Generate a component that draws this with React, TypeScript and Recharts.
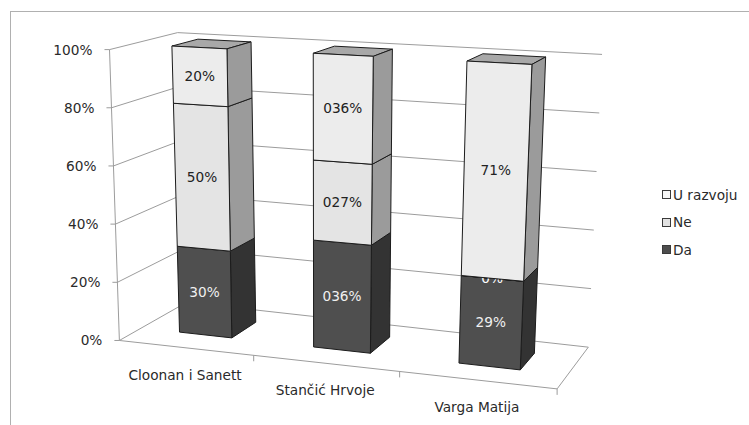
import React from 'react';
import { BarChart, Bar, XAxis, YAxis, CartesianGrid, Legend } from 'recharts';

const categories = ['Cloonan i Sanett', 'Stančić Hrvoje', 'Varga Matija'];
const daValues = [30, 36, 29];
const neValues = [50, 27, 0];
const uRazvojuValues = [20, 36, 71];
const daLabels = ['30%', '036%', '29%'];
const neLabels = ['50%', '027%', '0%'];
const uRazvojuLabels = ['20%', '036%', '71%'];
const yTicks = [0, 0.2, 0.4, 0.6, 0.8, 1];
const seriesNames = ['Da', 'Ne', 'U razvoju'];

const data = categories.map((name, i) => ({
  name,
  Da: daValues[i],
  Ne: neValues[i],
  'U razvoju': uRazvojuValues[i],
}));

const W = 749;
const H = 425;
const PLOT_LEFT = 118;
const PLOT_RIGHT = 568;
const PLOT_TOP = 40;
const PLOT_BOTTOM = 340;
const D_FRONT = -0.82;
const D_BACK = 1.67;
const FONT = '"DejaVu Sans", Verdana, sans-serif';
const FS = 13.7;
const GRID = '#9c9c9c';
const EDGE = '#1c1c1c';

const vOf = (y: number) => (PLOT_BOTTOM - y) / (PLOT_BOTTOM - PLOT_TOP);

// perspective projection of the flat library coordinates
const gx = (xl: number) => xl + 2.75e-4 * (xl - 343) * (xl - 343);
function P(xl: number, v: number, d: number): [number, number] {
  const xt = gx(xl);
  const top = 46 + 0.051 * (xt - 171);
  const bot = 332 + 0.105 * (xt - 171);
  const y = bot - v * (bot - top);
  const x = xt - 1.8e-4 * (xt - 320) * (y - top);
  const dx = 24 - 0.034 * (x - 230);
  const dy = -7 - 0.03 * (y - 50);
  return [x + d * dx, y + d * dy];
}
const poly = (pts: [number, number][]) => pts.map((p) => `${p[0].toFixed(2)},${p[1].toFixed(2)}`).join(' ');
const ln = (a: [number, number], b: [number, number], key: string, color = GRID) => (
  <line key={key} x1={a[0]} y1={a[1]} x2={b[0]} y2={b[1]} stroke={color} strokeWidth={1} />
);

const renderGridLine = (props: any) => {
  const { x1, x2, y1, index } = props;
  const v = vOf(y1);
  const a = P(x1, v, D_FRONT);
  const b = P(x1, v, D_BACK);
  const c = P(x2, v, D_BACK);
  const parts = [ln(a, b, 'l'), ln(b, c, 'b')];
  if (Math.abs(v) < 1e-6) {
    const f = P(x2, 0, D_FRONT);
    parts.push(ln(a, f, 'f'));
    parts.push(ln(f, c, 'r'));
    parts.push(ln(a, P(x1, 1, D_FRONT), 'ax'));
  }
  return <g key={`grid-${index}`}>{parts}</g>;
};

const YTick = (props: any) => {
  const { y, payload } = props;
  const v = vOf(y);
  const [ax, ay] = P(PLOT_LEFT, v, D_FRONT);
  return (
    <g>
      <line x1={ax - 5} y1={ay} x2={ax} y2={ay} stroke={GRID} />
      <text x={ax - 17} y={ay} dy="0.36em" textAnchor="end" fontFamily={FONT} fontSize={FS} fill="#2a2a2a">
        {`${Math.round(payload.value * 100)}%`}
      </text>
    </g>
  );
};

const XTick = (props: any) => {
  const { x, payload, index } = props;
  const [lx, ly] = P(x, 0, D_FRONT);
  const band = (PLOT_RIGHT - PLOT_LEFT) / categories.length;
  const marks: number[] = [];
  if (index > 0) marks.push(x - band / 2);
  if (index === categories.length - 1) marks.push(x + band / 2);
  return (
    <g>
      {marks.map((m, i) => {
        const p = P(m, 0, D_FRONT);
        return <line key={i} x1={p[0]} y1={p[1]} x2={p[0]} y2={p[1] + 6} stroke={GRID} />;
      })}
      <text x={lx} y={ly + 27} dy="0.36em" textAnchor="middle" fontFamily={FONT} fontSize={FS} fill="#2a2a2a">
        {payload.value}
      </text>
    </g>
  );
};

const makeShape = (
  labels: string[],
  values: number[],
  front: string,
  side: string,
  topC: string,
  labelColor: string
) => (props: any) => {
  const { x, y, width, height, index } = props;
  if (x == null || y == null) return <g />;
  const h = height || 0;
  const vt = vOf(y);
  const vb = vOf(y + h);
  const x0 = x;
  const x1 = x + width;
  const fr: [number, number][] = [P(x0, vb, 0), P(x1, vb, 0), P(x1, vt, 0), P(x0, vt, 0)];
  const sd: [number, number][] = [P(x1, vb, 0), P(x1, vb, 1), P(x1, vt, 1), P(x1, vt, 0)];
  const tp: [number, number][] = [P(x0, vt, 0), P(x1, vt, 0), P(x1, vt, 1), P(x0, vt, 1)];
  const [cx, cy] = P(x + width / 2, (vt + vb) / 2, 0);
  const col = values[index] === 0 ? '#ffffff' : labelColor;
  return (
    <g>
      <polygon points={poly(tp)} fill={topC} stroke={EDGE} strokeWidth={1} strokeLinejoin="round" />
      <polygon points={poly(sd)} fill={side} stroke={EDGE} strokeWidth={1} strokeLinejoin="round" />
      <polygon points={poly(fr)} fill={front} stroke={EDGE} strokeWidth={1} strokeLinejoin="round" />
      <text x={cx} y={cy} dy="0.36em" textAnchor="middle" fontFamily={FONT} fontSize={FS} fill={col}>
        {labels[index]}
      </text>
    </g>
  );
};

const renderLegend = (props: any) => {
  const items = [...(props.payload || [])].sort(
    (a: any, b: any) => seriesNames.indexOf(b.value) - seriesNames.indexOf(a.value)
  );
  return (
    <div style={{ fontFamily: FONT, fontSize: FS, color: '#2a2a2a' }}>
      {items.map((it: any) => (
        <div key={it.value} style={{ display: 'flex', alignItems: 'center', height: 27.5 }}>
          <span
            style={{
              display: 'inline-block',
              width: 9,
              height: 9,
              boxSizing: 'border-box',
              background: it.color,
              border: '1px solid #3a3a3a',
            }}
          />
          <span style={{ marginLeft: 2 }}>{it.value}</span>
        </div>
      ))}
    </div>
  );
};

export default function App() {
  return (
    <div style={{ position: 'absolute', left: 0, top: 0, width: W, height: H, background: '#fff' }}>
      <div
        style={{
          position: 'absolute',
          left: 10,
          top: 11,
          width: W - 10,
          height: H - 11,
          boxSizing: 'border-box',
          borderTop: '1px solid #b0b0b0',
          borderLeft: '1px solid #b0b0b0',
        }}
      />
      <div style={{ position: 'absolute', left: 0, top: 0 }}>
        <BarChart
          width={W}
          height={H}
          data={data}
          stackOffset="expand"
          margin={{ top: PLOT_TOP, right: W - PLOT_RIGHT, bottom: 0, left: 0 }}
        >
          <CartesianGrid vertical={false} horizontal={renderGridLine as any} />
          <XAxis
            dataKey="name"
            height={H - PLOT_BOTTOM}
            axisLine={false}
            tickLine={false}
            interval={0}
            tick={<XTick />}
          />
          <YAxis
            width={PLOT_LEFT}
            domain={[0, 1]}
            ticks={yTicks}
            axisLine={false}
            tickLine={false}
            tick={<YTick />}
          />
          <Legend
            layout="vertical"
            align="center"
            verticalAlign="middle"
            wrapperStyle={{ left: 662, top: 181, width: 87 }}
            content={renderLegend}
          />
          <Bar
            dataKey="Da"
            stackId="a"
            barSize={60}
            fill="#4d4d4d"
            isAnimationActive={false}
            shape={makeShape(daLabels, daValues, '#4f4f4f', '#333333', '#3d3d3d', '#f0f0f0')}
          />
          <Bar
            dataKey="Ne"
            stackId="a"
            barSize={60}
            fill="#e2e2e2"
            isAnimationActive={false}
            shape={makeShape(neLabels, neValues, '#e4e4e4', '#9b9b9b', '#b0b0b0', '#222222')}
          />
          <Bar
            dataKey="U razvoju"
            stackId="a"
            barSize={60}
            fill="#f6f6f6"
            isAnimationActive={false}
            shape={makeShape(uRazvojuLabels, uRazvojuValues, '#ececec', '#9b9b9b', '#a8a8a8', '#222222')}
          />
        </BarChart>
      </div>
    </div>
  );
}
